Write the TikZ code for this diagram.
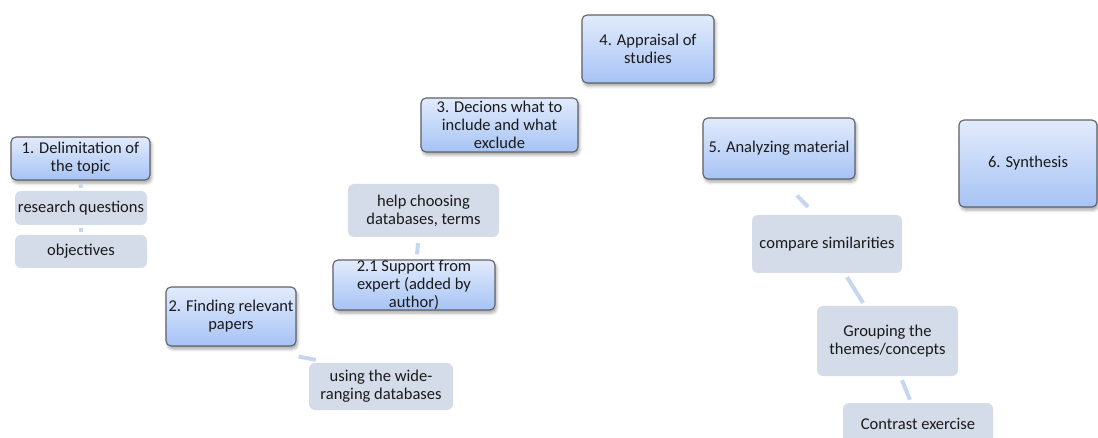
\documentclass[tikz,border=0pt]{standalone}
\usepackage{fontspec}
\setmainfont{Carlito}
\usetikzlibrary{shadows.blur}
\definecolor{stepTop}{HTML}{E2EBFC}
\definecolor{stepBot}{HTML}{A6C3F5}
\definecolor{stepEdge}{HTML}{5E6166}
\definecolor{noteFill}{HTML}{D4DBE9}
\definecolor{linkCol}{HTML}{C6D6F0}
\definecolor{txt}{HTML}{1A1A1A}
\tikzset{
  stepbox/.style={draw=stepEdge, line width=1.1pt, rounded corners=5pt,
    top color=stepTop, bottom color=stepBot, align=center, inner sep=0pt,
    text=txt, font=\fontsize{16.5}{18}\selectfont,
    blur shadow={shadow xshift=1.5pt, shadow yshift=-3pt, shadow blur radius=3pt, shadow opacity=35}},
  notebox/.style={fill=noteFill, rounded corners=6pt, align=center, inner sep=0pt,
    text=txt, font=\fontsize{16.5}{18}\selectfont},
  link/.style={draw=linkCol, line width=4pt}
}
\begin{document}
\begin{tikzpicture}[x=1pt, y=-1pt]
\useasboundingbox (0,0) rectangle (1098,438);
\begin{scope}
\clip (0,0) rectangle (1098,438);
% main steps
\node[stepbox, minimum width=139pt, minimum height=43pt] (n1) at (80.5,158.5) {1. Delimitation of\\the topic};
\node[stepbox, minimum width=130pt, minimum height=59pt] (n2) at (231,316.5) {2. Finding relevant\\papers};
\node[stepbox, minimum width=162pt, minimum height=50pt] (n21) at (414,285) {2.1 Support from\\expert (added by\\author)};
\node[stepbox, minimum width=157pt, minimum height=54pt] (n3) at (499.5,125) {3. Decions what to\\include and what\\exclude};
\node[stepbox, minimum width=132pt, minimum height=68pt] (n4) at (648,49) {4. Appraisal of\\studies};
\node[stepbox, minimum width=152pt, minimum height=61pt] (n5) at (779,148.5) {5. Analyzing material};
\node[stepbox, minimum width=138pt, minimum height=87pt] (n6) at (1028,163.5) {6. Synthesis};
% sub-items
\node[notebox, minimum width=132pt, minimum height=34pt] (rq) at (81,208) {research questions};
\node[notebox, minimum width=132pt, minimum height=33pt] (obj) at (81,251.5) {objectives};
\node[notebox, minimum width=151pt, minimum height=53pt] (help) at (423.5,210.5) {help choosing\\databases, terms};
\node[notebox, minimum width=144pt, minimum height=47pt] (wide) at (381,386.5) {using the wide-\\ranging databases};
\node[notebox, minimum width=150pt, minimum height=58pt] (cmp) at (827,244) {compare similarities};
\node[notebox, minimum width=141pt, minimum height=70pt] (grp) at (887.5,341) {Grouping the\\themes/concepts};
\node[notebox, minimum width=150pt, minimum height=42pt] (con) at (918,424) {Contrast exercise};
% connectors
\draw[link] ([yshift=-4pt]n1.south) -- ([yshift=3pt]rq.north);
\draw[link] ([yshift=-3pt]rq.south) -- ([yshift=3pt]obj.north);
\draw[link] ([xshift=-5.5pt,yshift=-6pt]help.south) -- ([xshift=3pt,yshift=5pt]n21.north);
\draw[link] ([xshift=2pt,yshift=-10pt]n2.south east) -- ([xshift=7pt,yshift=3pt]wide.north west);
\draw[link] ([xshift=18pt,yshift=-16pt]n5.south) -- ([xshift=-19pt,yshift=8pt]cmp.north);
\draw[link] ([xshift=20pt,yshift=-4pt]cmp.south) -- ([xshift=-24.5pt,yshift=3pt]grp.north);
\draw[link] ([xshift=14.5pt,yshift=-4pt]grp.south) -- ([xshift=-8pt,yshift=3pt]con.north);
\end{scope}
\end{tikzpicture}
\end{document}
